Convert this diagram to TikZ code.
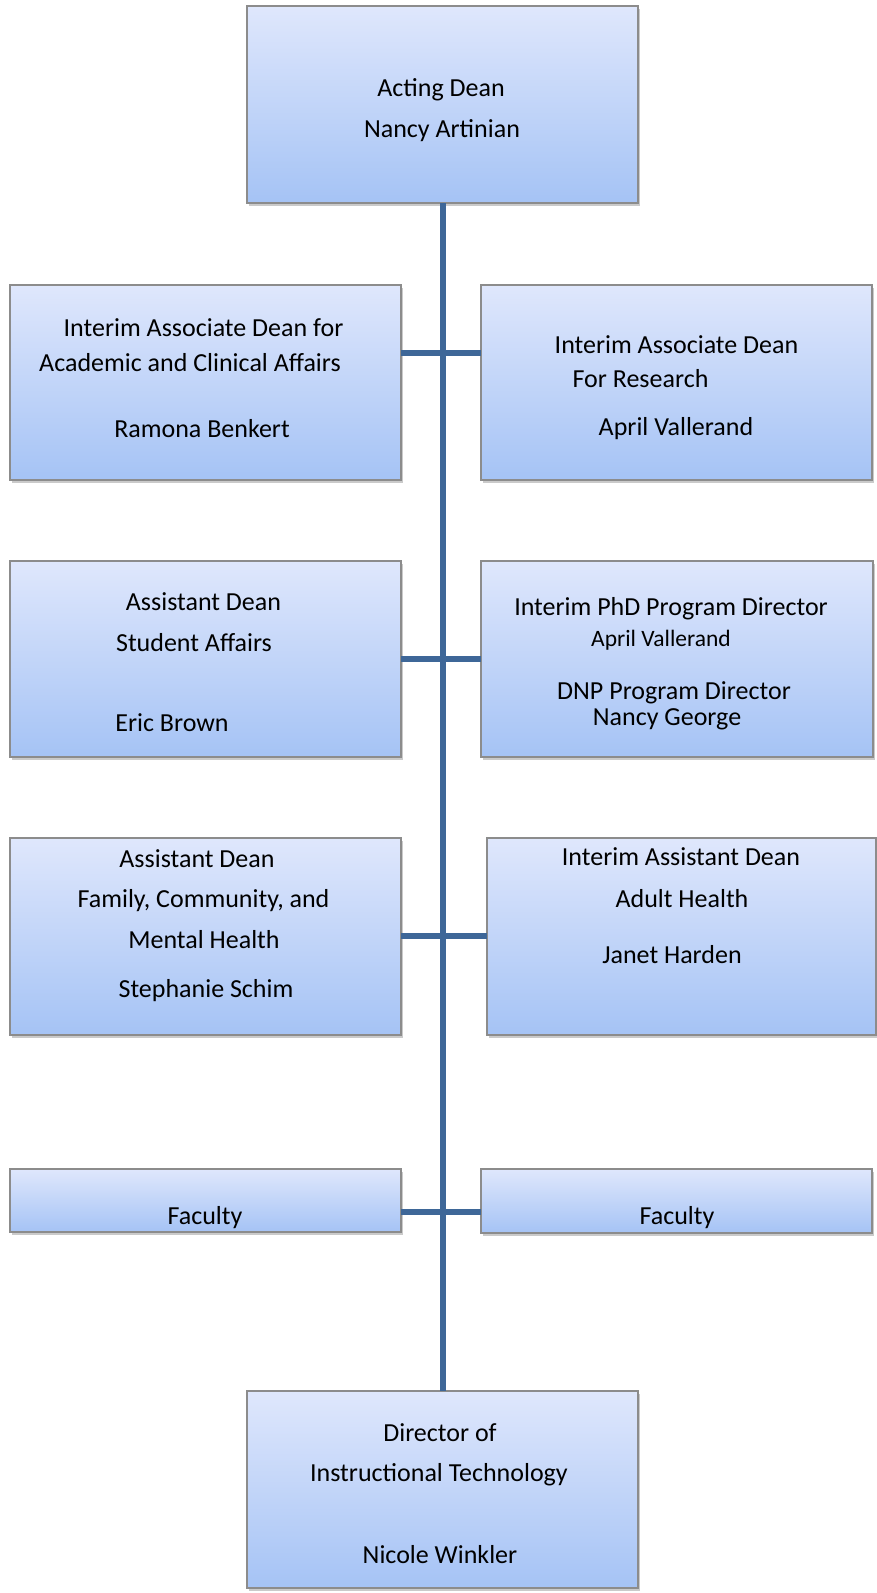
\documentclass[tikz,border=0pt]{standalone}
\usepackage{fontspec}
\setmainfont{Carlito}
\usetikzlibrary{shadows}
\definecolor{boxtop}{RGB}{223,231,252}
\definecolor{boxbot}{RGB}{165,195,245}
\definecolor{boxedge}{RGB}{140,140,140}
\definecolor{linkc}{RGB}{62,103,152}
\tikzset{
  box/.style={draw=boxedge, line width=1.2pt, top color=boxtop, bottom color=boxbot,
    anchor=north west, inner sep=0pt, outer sep=0pt,
    drop shadow={shadow xshift=1.5pt, shadow yshift=-2.5pt, opacity=0.35, fill=black!60}},
  lbl/.style={font=\fontsize{26}{30}\selectfont, anchor=base, inner sep=0pt},
  lblsmall/.style={font=\fontsize{23.5}{28}\selectfont, anchor=base, inner sep=0pt},
  conn/.style={draw=linkc, line width=6pt}
}
\begin{document}
\begin{tikzpicture}[x=1pt,y=-1pt]
\useasboundingbox (0,0) rectangle (877,1593);
\node[box, minimum width=391pt, minimum height=197pt] (Top) at (247,6) {};
\node[box, minimum width=391pt, minimum height=197pt] (Bot) at (247,1391) {};
\coordinate (j1) at (442,353);
\coordinate (j2) at (442,659);
\coordinate (j3) at (442,936);
\coordinate (j4) at (442,1212);
\node[box, minimum width=391pt, minimum height=195pt] (L1) at (10,285) {};
\node[box, minimum width=391pt, minimum height=195pt] (R1) at (481,285) {};
\node[box, minimum width=391pt, minimum height=196pt] (L2) at (10,561) {};
\node[box, minimum width=392pt, minimum height=196pt] (R2) at (481,561) {};
\node[box, minimum width=391pt, minimum height=197pt] (L3) at (10,838) {};
\node[box, minimum width=389pt, minimum height=197pt] (R3) at (487,838) {};
\node[box, minimum width=391pt, minimum height=63pt] (F1) at (10,1169) {};
\node[box, minimum width=391pt, minimum height=64pt] (F2) at (481,1169) {};
\draw[conn] (Top.south) -- (Bot.north);
\draw[conn] (j1 -| L1.east) -- (j1 -| R1.west);
\draw[conn] (j2 -| L2.east) -- (j2 -| R2.west);
\draw[conn] (j3 -| L3.east) -- (j3 -| R3.west);
\draw[conn] (j4 -| F1.east) -- (j4 -| F2.west);
% texts
\node[lbl] (a1) at (441,96) {Acting Dean};
\node[lbl] (a2) at (442,137) {Nancy Artinian};
\node[lbl] (b1) at (203.5,336) {Interim Associate Dean for};
\node[lbl] (b2) at (190,371) {Academic and Clinical Affairs};
\node[lbl] (b3) at (202,437) {Ramona Benkert};
\node[lbl] (c1) at (676.5,353) {Interim Associate Dean};
\node[lbl] (c2) at (640.5,387) {For Research};
\node[lbl] (c3) at (676,435) {April Vallerand};
\node[lbl] (d1) at (203.5,610) {Assistant Dean};
\node[lbl] (d2) at (194,651) {Student Affairs};
\node[lbl] (d3) at (172,731) {Eric Brown};
\node[lbl] (e1) at (671,615) {Interim PhD Program Director};
\node[lblsmall] (e2) at (661,646) {April Vallerand};
\node[lbl] (e3) at (674,699) {DNP Program Director};
\node[lbl] (e4) at (667,725) {Nancy George};
\node[lbl] (f1) at (197,867) {Assistant Dean};
\node[lbl] (f2) at (203.5,907) {Family, Community, and};
\node[lbl] (f3) at (204,948) {Mental Health};
\node[lbl] (f4) at (206,997) {Stephanie Schim};
\node[lbl] (g1) at (681,865) {Interim Assistant Dean};
\node[lbl] (g2) at (682,907) {Adult Health};
\node[lbl] (g3) at (672,963) {Janet Harden};
\node[lbl] (h1) at (205,1224) {Faculty};
\node[lbl] (h2) at (677,1224) {Faculty};
\node[lbl] (k1) at (440,1441) {Director of};
\node[lbl] (k2) at (439,1481) {Instructional Technology};
\node[lbl] (k3) at (440,1563) {Nicole Winkler};
\end{tikzpicture}
\end{document}
